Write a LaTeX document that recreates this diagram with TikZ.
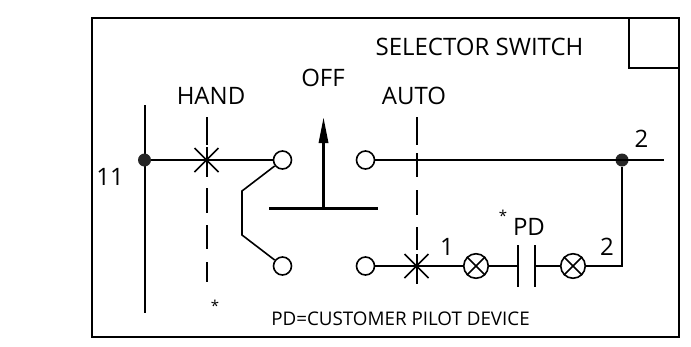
\documentclass[tikz,border=0pt]{standalone}
\usepackage{fontspec}
\setmainfont{Open Sans}
\usetikzlibrary{arrows.meta}
\tikzset{
  wire/.style={line width=1.6pt,line cap=butt},
  vwire/.style={line width=2pt,line cap=butt},
  term/.style={circle,draw,line width=1.6pt,minimum size=18pt,inner sep=0pt,fill=white},
  lamp/.style={circle,draw,line width=1.6pt,minimum size=24.5pt,inner sep=0pt,fill=white},
  junc/.style={circle,fill=black!85,minimum size=13pt,inner sep=0pt},
  lbl/.style={inner sep=0pt,font=\fontsize{24}{24}\selectfont},
  star/.style={inner sep=0pt,font=\fontsize{15}{15}\selectfont},
}
\begin{document}
\begin{tikzpicture}[x=1pt,y=-1pt]
\useasboundingbox (0,0) rectangle (691,346);
\draw[line width=2pt] (91.5,17.5) rectangle (678.5,337);
\draw[line width=1.8pt] (629,17.5) |- (678.5,68);
\node[lbl] (t1) at (479.5,47) {SELECTOR SWITCH};
\node[lbl] (t2) at (211,96) {HAND};
\node[lbl] (t3) at (323,78) {OFF};
\node[lbl] (t4) at (414,96) {AUTO};
\node[lbl] (t5) at (110,177) {11};
\node[lbl] (t6) at (641.5,139) {2};
\node[lbl] (t7) at (447,247) {1};
\node[lbl] (t8) at (607,247) {2};
\node[lbl] (t9) at (529,227) {PD};
\node[star] (t10) at (503,216) {*};
\node[star] (t11) at (215,306) {*};
\node[inner sep=0pt,font=\fontsize{18.8}{19}\selectfont] (t12) at (400.5,319) {PD=CUSTOMER PILOT DEVICE};
% bus
\coordinate (bt) at (144.5,105); \coordinate (bb) at (144.5,313);
\draw[vwire] (bt) -- (bb);
\node[term] (c1) at (282.5,160) {};
\node[term] (c2) at (282.5,266) {};
\node[term] (c3) at (365.5,160) {};
\node[term] (c4) at (365.5,266) {};
\node[lamp] (l1) at (476,266) {};
\node[lamp] (l2) at (573,266) {};
\node[junc] (j1) at (144.5,160) {};
\node[junc] (j2) at (622,160) {};
\coordinate (e2) at (664,160);
\draw[wire] (j1) -- (c1);
\draw[wire] (c3) -- (e2);
\draw[wire] (c1) -- (242,191) -- (242,235) -- (c2);
% hand star
\draw[vwire] (206.5,117) -- (206.5,145);
\draw[vwire] (206.5,147) -- (206.5,177);
\draw[wire] (194.5,148) -- (218.5,172);
\draw[wire] (194.5,172) -- (218.5,148);
\draw[vwire] (206.5,188) -- (206.5,213);
\draw[vwire] (206.5,225) -- (206.5,249);
\draw[vwire] (206.5,262) -- (206.5,282);
% auto
\draw[vwire] (416.5,117) -- (416.5,145);
\draw[vwire] (416.5,153) -- (416.5,177);
\draw[vwire] (416.5,190) -- (416.5,215);
\draw[vwire] (416.5,227) -- (416.5,250);
\draw[vwire] (416.5,254) -- (416.5,284);
\draw[wire] (404.5,254) -- (428.5,278);
\draw[wire] (404.5,278) -- (428.5,254);
% bottom right
\coordinate (p1) at (518,266); \coordinate (p2) at (535,266);
\draw[wire] (c4) -- (l1);
\draw[wire] (l1) -- (p1);
\draw[wire] (p2) -- (l2);
\draw[wire] (l2) -- (622,266) -- (j2);
\draw[vwire] (518,245) -- (518,287);
\draw[vwire] (535,245) -- (535,287);
\draw[wire] (l1.north west) -- (l1.south east);
\draw[wire] (l1.north east) -- (l1.south west);
\draw[wire] (l2.north west) -- (l2.south east);
\draw[wire] (l2.north east) -- (l2.south west);
% handle
\draw[line width=3.6pt] (269,208.5) -- (378,208.5);
\draw[line width=3pt] (323.5,208.5) -- (323.5,140);
\fill (323.5,118) -- (328.5,143) -- (318.5,143) -- cycle;
\end{tikzpicture}
\end{document}
